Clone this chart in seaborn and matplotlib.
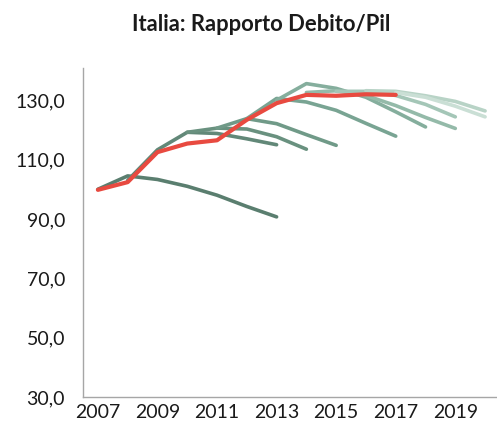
import matplotlib
matplotlib.use("Agg")
import matplotlib.pyplot as plt
import seaborn as sns
import pandas as pd

# Debt/GDP forecast vintages (first year, values) and the realised series
vintage_starts = [2007, 2008, 2010, 2011, 2012, 2013, 2014, 2015, 2016, 2017]
vintage_values = [
    [100.0, 104.5, 103.3, 101.0, 98.0, 94.2, 90.7],
    [103.0, 113.3, 119.2, 118.8, 117.0, 115.0],
    [119.2, 120.6, 120.3, 117.7, 113.5],
    [120.6, 123.8, 122.1, 118.4, 114.8],
    [123.8, 130.6, 129.4, 126.6, 122.2, 117.9],
    [130.0, 135.6, 134.0, 131.0, 126.1, 121.0],
    [132.6, 133.2, 131.6, 128.2, 124.2, 120.5],
    [133.0, 133.0, 131.6, 128.6, 124.4],
    [133.2, 133.0, 131.5, 129.6, 126.4],
    [132.6, 131.0, 128.0, 124.4],
]
vintage_colors = ["#5a7e6f", "#628878", "#69917f", "#709a88", "#79a493",
                  "#85ae9d", "#94baa9", "#a4c6b7", "#b8d3c6", "#cadfd5"]

actual_years = list(range(2007, 2018))
actual_values = [99.8, 102.4, 112.5, 115.4, 116.5, 123.4, 129.0, 131.8, 131.5, 132.0, 131.8]

year_ticks = [2007, 2009, 2011, 2013, 2015, 2017, 2019]
value_ticks = [30, 50, 70, 90, 110, 130]

rows = []
for i, (start, vals) in enumerate(zip(vintage_starts, vintage_values)):
    for k, v in enumerate(vals):
        rows.append({"anno": start + k, "debito": v, "serie": f"v{i}"})
forecasts = pd.DataFrame(rows)
actual = pd.DataFrame({"anno": actual_years, "debito": actual_values})

sns.set_style("white")
plt.rcParams["font.family"] = ["Lato", "DejaVu Sans"]

fig = plt.figure(figsize=(4.97, 4.37), dpi=100)
ax = fig.add_axes([0.167, 0.0915, 0.833, 0.7525])

sns.lineplot(data=forecasts, x="anno", y="debito", hue="serie",
             palette=vintage_colors, linewidth=2.6, legend=False, ax=ax,
             solid_capstyle="round")
sns.lineplot(data=actual, x="anno", y="debito", color="#e84a40",
             linewidth=3.0, ax=ax, solid_capstyle="round")

ax.set_xlim(2006.5, 2020.4)
ax.set_ylim(30, 140.8)
ax.set_xticks(year_ticks)
ax.set_xticklabels([str(y) for y in year_ticks])
ax.set_yticks(value_ticks)
ax.set_yticklabels([f"{v:.1f}".replace(".", ",") for v in value_ticks])
ax.tick_params(axis="both", length=0, labelsize=14, colors="#1a1a1a")
ax.tick_params(axis="y", pad=13)
ax.tick_params(axis="x", pad=5)
ax.set_xlabel("")
ax.set_ylabel("")
for side in ("top", "right"):
    ax.spines[side].set_visible(False)
for side in ("left", "bottom"):
    ax.spines[side].set_color("#a6a6a6")
    ax.spines[side].set_linewidth(1.0)

fig.text(0.525, 0.943, "Italia: Rapporto Debito/Pil", ha="center", va="center",
         fontsize=15.8, fontweight="bold", color="#1a1a1a")

fig.savefig("out.png", dpi=100)
